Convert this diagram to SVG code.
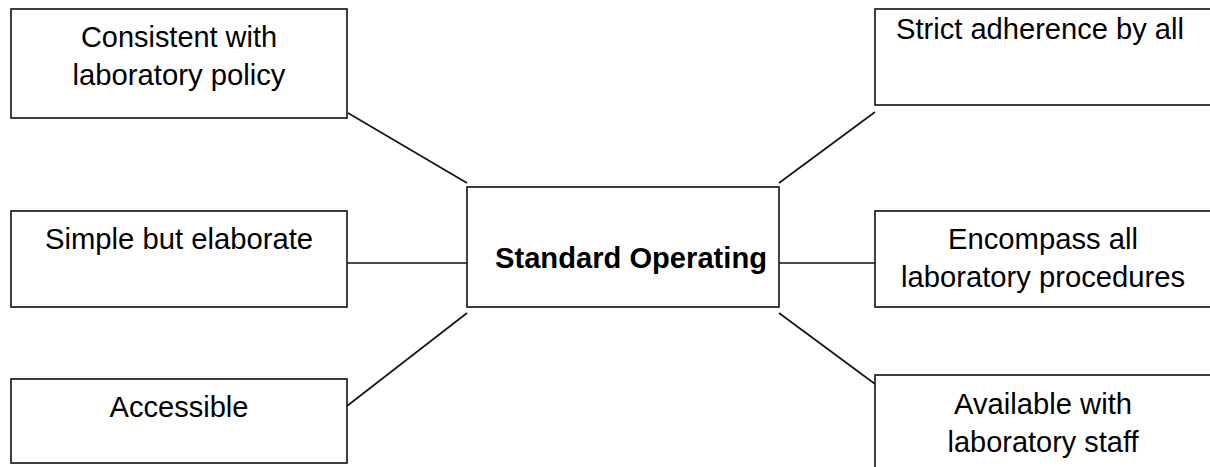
<svg xmlns="http://www.w3.org/2000/svg" width="1210" height="467" viewBox="0 0 1210 467">
<style>
.box{fill:#fff;stroke:#111;stroke-width:1.6}
.lbl{font-family:"Liberation Sans",Arial,sans-serif;font-size:29px;fill:#000;text-anchor:middle}
.b{font-weight:bold;text-anchor:start}
.st{text-anchor:start}
.con line{stroke:#111;stroke-width:1.6}
</style>
<rect width="1210" height="467" fill="#fff"/>
<g class="con" id="connectors">
<line x1="348" y1="113" x2="467" y2="183"/>
<line x1="347" y1="263" x2="467" y2="263"/>
<line x1="347" y1="406" x2="467" y2="313"/>
<line x1="875" y1="112" x2="779" y2="183"/>
<line x1="779" y1="263" x2="875" y2="263"/>
<line x1="779" y1="313" x2="875" y2="384"/>
</g>
<g id="center">
<rect class="box" x="467" y="187" width="312" height="120"/>
<text class="lbl b" x="495" y="268" textLength="272" lengthAdjust="spacingAndGlyphs">Standard Operating</text>
</g>
<g id="n1">
<rect class="box" x="11" y="9" width="336" height="109"/>
<text class="lbl" x="179" y="47" textLength="196" lengthAdjust="spacingAndGlyphs">Consistent with</text>
<text class="lbl" x="179" y="85" textLength="213" lengthAdjust="spacingAndGlyphs">laboratory policy</text>
</g>
<g id="n2">
<rect class="box" x="11" y="211" width="336" height="96"/>
<text class="lbl" x="179" y="249" textLength="268" lengthAdjust="spacingAndGlyphs">Simple but elaborate</text>
</g>
<g id="n3">
<rect class="box" x="11" y="379" width="336" height="84"/>
<text class="lbl" x="179" y="417" textLength="139" lengthAdjust="spacingAndGlyphs">Accessible</text>
</g>
<g id="n4">
<rect class="box" x="875" y="9" width="345" height="96"/>
<text class="lbl st" x="896" y="39" textLength="288" lengthAdjust="spacingAndGlyphs">Strict adherence by all</text>
</g>
<g id="n5">
<rect class="box" x="875" y="211" width="345" height="96"/>
<text class="lbl" x="1043" y="249" textLength="190" lengthAdjust="spacingAndGlyphs">Encompass all</text>
<text class="lbl" x="1043" y="287" textLength="284" lengthAdjust="spacingAndGlyphs">laboratory procedures</text>
</g>
<g id="n6">
<rect class="box" x="875" y="375" width="345" height="110"/>
<text class="lbl" x="1043" y="414" textLength="178" lengthAdjust="spacingAndGlyphs">Available with</text>
<text class="lbl" x="1043" y="452" textLength="191" lengthAdjust="spacingAndGlyphs">laboratory staff</text>
</g>
</svg>
